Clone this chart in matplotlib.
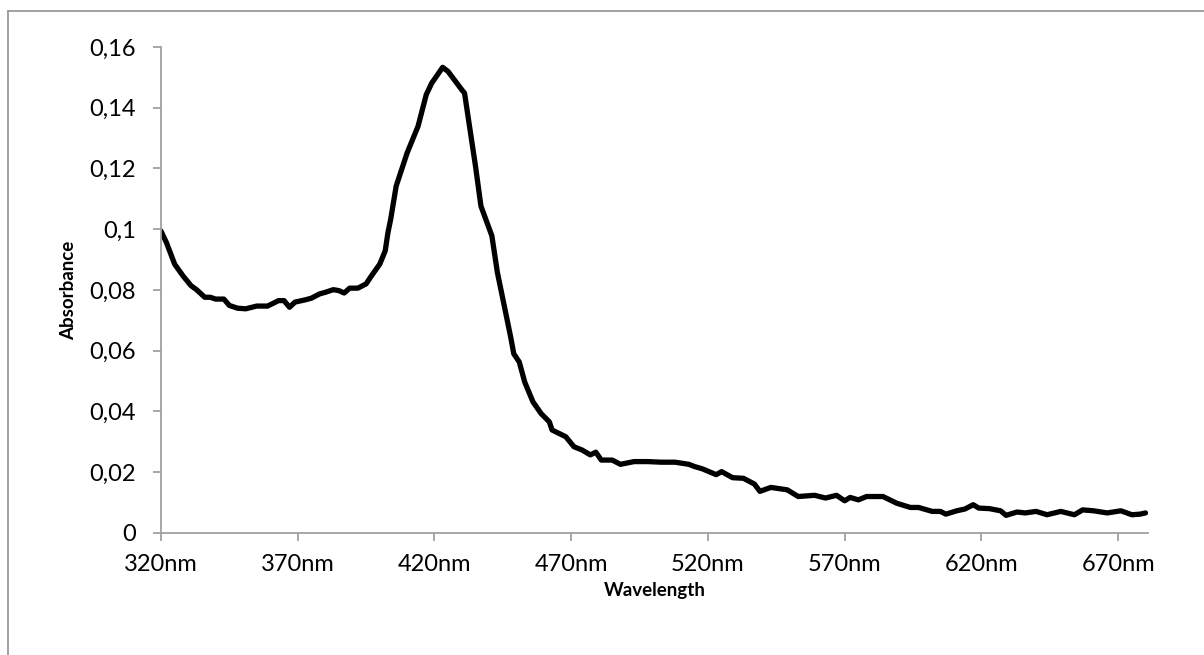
import matplotlib.pyplot as plt
from matplotlib.lines import Line2D

plt.rcParams['font.family'] = ['Lato', 'DejaVu Sans']

# absorbance spectrum (nm, absorbance)
wavelength = [320, 322, 325, 328, 331, 333, 336, 338, 340, 343, 345, 348, 351, 355,
              359, 363, 365, 367, 369, 373, 375, 378, 380, 383, 385, 387, 389, 392,
              395, 397, 400, 402, 403, 404, 406, 410, 414, 417, 419, 423, 425, 430,
              431, 433, 435, 437, 441, 443, 446, 448, 449, 451, 453, 456, 459, 462,
              463, 468, 471, 474, 477, 479, 481, 485, 488, 493, 498, 503, 508, 513,
              515, 518, 523, 525, 529, 533, 537, 539, 543, 549, 553, 559, 563, 567,
              570, 572, 575, 578, 584, 589, 594, 597, 602, 605, 607, 611, 614, 617,
              619, 623, 627, 629, 633, 636, 640, 644, 649, 654, 657, 661, 666, 671,
              675, 678, 680]
absorbance = [0.0994, 0.0956, 0.0885, 0.0847, 0.0814, 0.0801, 0.0776, 0.0776, 0.0770,
              0.0770, 0.0749, 0.0740, 0.0738, 0.0747, 0.0747, 0.0765, 0.0765, 0.0743,
              0.0760, 0.0768, 0.0773, 0.0787, 0.0792, 0.0801, 0.0798, 0.0790, 0.0806,
              0.0806, 0.0820, 0.0847, 0.0885, 0.0929, 0.0989, 0.1033, 0.1142, 0.1251,
              0.1339, 0.1443, 0.1481, 0.1533, 0.1519, 0.1459, 0.1448, 0.1328, 0.1208,
              0.1076, 0.0978, 0.0858, 0.0727, 0.0639, 0.0590, 0.0563, 0.0497, 0.0432,
              0.0393, 0.0366, 0.0339, 0.0317, 0.0284, 0.0273, 0.0257, 0.0266, 0.0240,
              0.0240, 0.0226, 0.0235, 0.0235, 0.0233, 0.0233, 0.0226, 0.0219, 0.0211,
              0.0192, 0.0202, 0.0182, 0.0180, 0.0161, 0.0137, 0.0150, 0.0142, 0.0120,
              0.0124, 0.0115, 0.0124, 0.0106, 0.0117, 0.0109, 0.0120, 0.0120, 0.0098,
              0.0084, 0.0084, 0.0071, 0.0071, 0.0062, 0.0073, 0.0079, 0.0093, 0.0082,
              0.0080, 0.0073, 0.0058, 0.0069, 0.0066, 0.0071, 0.0060, 0.0071, 0.0060,
              0.0076, 0.0073, 0.0066, 0.0073, 0.0060, 0.0062, 0.0066]

xticks = [320, 370, 420, 470, 520, 570, 620, 670]
xtick_labels = ['320nm', '370nm', '420nm', '470nm', '520nm', '570nm', '620nm', '670nm']
yticks = [0, 0.02, 0.04, 0.06, 0.08, 0.1, 0.12, 0.14, 0.16]
ytick_labels = ['0', '0,02', '0,04', '0,06', '0,08', '0,1', '0,12', '0,14', '0,16']

fig = plt.figure(figsize=(12.04, 6.55), dpi=100)
ax = fig.add_axes([0.1337, 0.1863, 0.82, 0.742])

ax.plot(wavelength, absorbance, color='black', linewidth=3.8,
        solid_joinstyle='round', solid_capstyle='round')

ax.set_xlim(320, 681)
ax.set_ylim(0, 0.16)
ax.set_xticks(xticks)
ax.set_xticklabels(xtick_labels)
ax.set_yticks(yticks)
ax.set_yticklabels(ytick_labels)

grey = '#a0a0a0'
for side in ['top', 'right']:
    ax.spines[side].set_visible(False)
for side in ['left', 'bottom']:
    ax.spines[side].set_color(grey)
    ax.spines[side].set_linewidth(1.3)
ax.tick_params(axis='both', colors=grey, width=1.3, length=6, labelsize=17,
               labelcolor='black')
ax.tick_params(axis='y', pad=12)
ax.tick_params(axis='x', pad=9)

ax.set_xlabel('Wavelength', fontsize=13.5, fontweight='bold', labelpad=5)
ax.set_ylabel('Absorbance', fontsize=13.5, fontweight='bold', labelpad=9)

# chart area border (left and top edges)
fig.add_artist(Line2D([0.0066, 0.0066], [0.0, 0.9832], color='#999999',
                      linewidth=1.3, transform=fig.transFigure))
fig.add_artist(Line2D([0.0066, 1.0], [0.9832, 0.9832], color='#999999',
                      linewidth=1.3, transform=fig.transFigure))

fig.savefig('out.png', dpi=100)
